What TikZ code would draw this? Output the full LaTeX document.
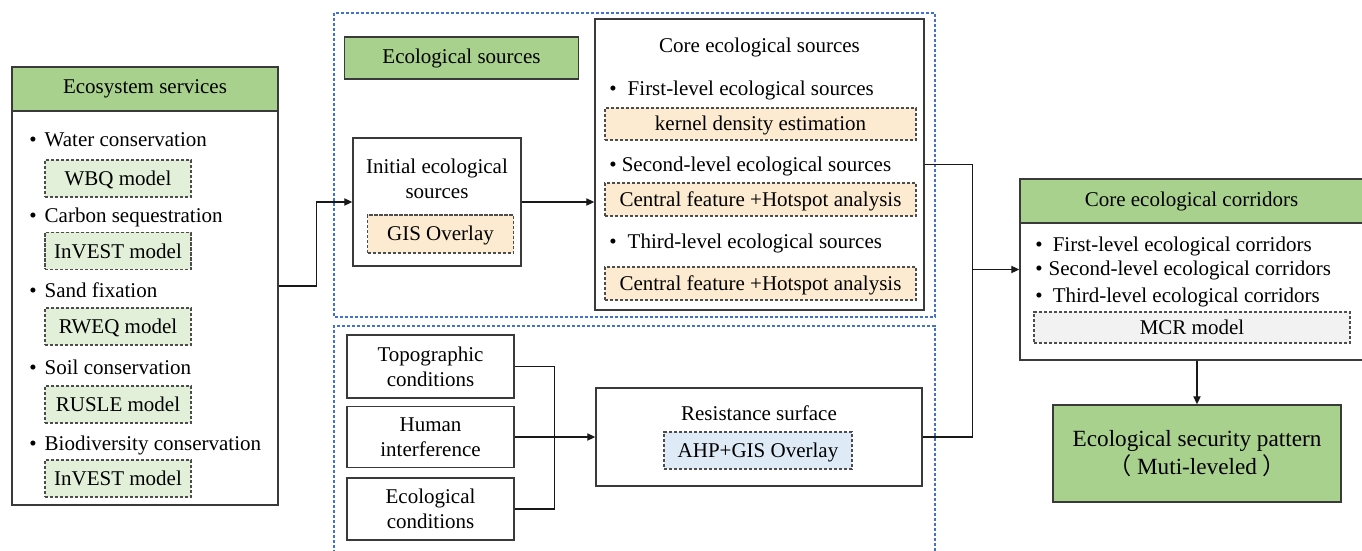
\documentclass[tikz,border=0pt]{standalone}
\usepackage{fontspec}
\setmainfont{Liberation Serif}
\newfontfamily\cjk{Noto Sans CJK SC}
\usetikzlibrary{arrows.meta}
\definecolor{hdrgreen}{HTML}{A9D18E}
\definecolor{mdlgreen}{HTML}{E2F0D9}
\definecolor{mdlorange}{HTML}{FCEBD0}
\definecolor{mdlblue}{HTML}{DEEBF7}
\definecolor{mdlgray}{HTML}{F2F2F2}
\definecolor{grpblue}{HTML}{4472C4}
\definecolor{edgegray}{HTML}{3A3A3A}
\begin{document}
\begin{tikzpicture}[x=0.5pt,y=-0.5pt,
  txt/.style={font=\fontsize{10.5}{12.6}\selectfont, inner sep=0pt},
  item/.style={txt, anchor=base west},
  box/.style={draw=edgegray, line width=0.7pt, txt, align=center},
  model/.style={draw=black!70, line width=0.6pt, dash pattern=on 1.6pt off 0.9pt, txt, text height=7pt, text depth=0pt},
  grp/.style={draw=grpblue, line width=0.6pt, dash pattern=on 1.6pt off 0.9pt},
  link/.style={draw=black!90, line width=0.65pt},
  arr/.style={link, -{Triangle[length=4pt,width=3.6pt]}},
]
\useasboundingbox (0,0) rectangle (1362,551);
\fill[white] (0,0) rectangle (1362,551);

% groups
\draw[grp] (334,13) rectangle (935,317);
\draw[grp] (334,553) -- (334,326) -- (935,326) -- (935,553);

% Ecosystem services
\node[box, minimum width=133pt, minimum height=219pt] (es) at (145,286) {};
\node[box, fill=hdrgreen, minimum width=133pt, minimum height=22pt] (esh) at (145,89) {Ecosystem services};
\node[item] (es1) at (29,147) {\textbullet\hspace{4pt}Water conservation};
\node[model, fill=mdlgreen, minimum width=73pt, minimum height=18.5pt] (m1) at (118,178.5) {WBQ model};
\node[item] (es2) at (29,223) {\textbullet\hspace{4pt}Carbon sequestration};
\node[model, fill=mdlgreen, minimum width=73pt, minimum height=18.5pt] (m2) at (118,251) {InVEST model};
\node[item] (es3) at (29,298) {\textbullet\hspace{4pt}Sand fixation};
\node[model, fill=mdlgreen, minimum width=73pt, minimum height=18.5pt] (m3) at (118,326.5) {RWEQ model};
\node[item] (es4) at (29,374) {\textbullet\hspace{4pt}Soil conservation};
\node[model, fill=mdlgreen, minimum width=73pt, minimum height=18.5pt] (m4) at (118,404.5) {RUSLE model};
\node[item] (es5) at (29,450) {\textbullet\hspace{4pt}Biodiversity conservation};
\node[model, fill=mdlgreen, minimum width=73pt, minimum height=18.5pt] (m5) at (118,478.5) {InVEST model};

% Ecological sources
\node[box, fill=hdrgreen, minimum width=117pt, minimum height=21pt] (eslbl) at (461.5,58) {Ecological sources};
\node[box, minimum width=84pt, minimum height=64pt] (init) at (437,202) {};
\node[txt, align=center] (initt) at (437,179) {Initial ecological\\sources};
\node[model, fill=mdlorange, minimum width=73pt, minimum height=19pt] (gis) at (440.5,234) {GIS Overlay};

\node[box, minimum width=164.5pt, minimum height=145.5pt] (core) at (759.5,164.5) {};
\node[txt] (coret) at (759.5,47) {Core ecological sources};
\node[item] (c1) at (609,96) {\textbullet\hspace{5.5pt}First-level ecological sources};
\node[model, fill=mdlorange, minimum width=155.5pt, minimum height=16pt] (kde) at (760.5,124) {kernel density estimation};
\node[item] (c2) at (609,172) {\textbullet\hspace{2.5pt}Second-level ecological sources};
\node[model, fill=mdlorange, minimum width=155.5pt, minimum height=16.5pt] (cf1) at (760.5,199.5) {Central feature +Hotspot analysis};
\node[item] (c3) at (609,249) {\textbullet\hspace{5.5pt}Third-level ecological sources};
\node[model, fill=mdlorange, minimum width=155.5pt, minimum height=16.5pt] (cf2) at (760.5,283.5) {Central feature +Hotspot analysis};

% Resistance factors
\node[box, minimum width=83.5pt, minimum height=31.5pt] (topo) at (430.5,366.5) {Topographic\\conditions};
\node[box, minimum width=83.5pt, minimum height=30.5pt] (hum) at (430.5,437) {Human\\interference};
\node[box, minimum width=83.5pt, minimum height=31pt] (eco) at (430.5,509) {Ecological\\conditions};
\node[box, minimum width=163pt, minimum height=49pt] (res) at (759,437) {};
\node[txt] (rest) at (759,413) {Resistance surface};
\node[model, fill=mdlblue, minimum width=94pt, minimum height=18.5pt] (ahp) at (758,450.5) {AHP+GIS Overlay};

% Corridors
\node[box, minimum width=171.5pt, minimum height=90.5pt] (corr) at (1191.5,269.5) {};
\node[box, fill=hdrgreen, minimum width=171.5pt, minimum height=22pt] (corrh) at (1191.5,201) {Core ecological corridors};
\node[item] (r1) at (1035,252) {\textbullet\hspace{5pt}First-level ecological corridors};
\node[item] (r2) at (1035,276) {\textbullet\hspace{3pt}Second-level ecological corridors};
\node[item] (r3) at (1035,302) {\textbullet\hspace{5pt}Third-level ecological corridors};
\node[model, fill=mdlgray, minimum width=158pt, minimum height=15.5pt] (mcr) at (1192,327.5) {MCR model};

% Security pattern
\node[box, fill=hdrgreen, minimum width=144pt, minimum height=48.5pt, font=\fontsize{11.6}{13.6}\selectfont] (sec) at (1197,453.5) {Ecological security pattern\\{\cjk （}\ Muti-leveled\ {\cjk ）}};

% connectors
\draw[arr] (es.east) -- ++(38,0) |- (init.west);
\draw[arr] (init.east) -- (init.east -| core.west);
\draw[link] (core.east) -- ++(48,0) |- (res.east);
\coordinate (jn) at (972,0);
\draw[arr] (jn |- corr.west) -- (corr.west);
\draw[link] (topo.east) -- ++(40,0) |- (eco.east);
\draw[arr] (hum.east) -- (res.west);
\draw[arr] (sec.north |- corr.south) -- (sec.north);
\end{tikzpicture}
\end{document}
